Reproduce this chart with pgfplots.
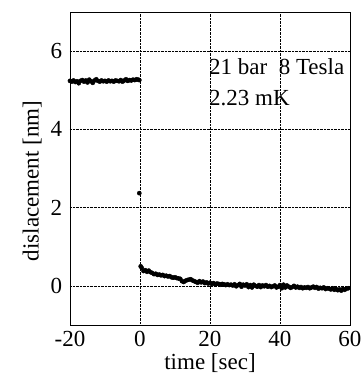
\documentclass[border=0pt]{standalone}
\usepackage{fontspec}
\setmainfont{Liberation Serif}
\usepackage{pgfplots}
\pgfplotsset{compat=1.18}
\begin{document}
\fontsize{23bp}{27bp}\selectfont
\begin{tikzpicture}
\begin{axis}[
  at={(0,0)}, anchor=south west,
  scale only axis, width=280bp, height=313bp,
  xmin=-20, xmax=60, ymin=-1, ymax=7,
  xtick={-20,0,20,40,60}, ytick={0,2,4,6},
  grid=major,
  major grid style={black, densely dotted, line width=0.5pt},
  tick style={draw=none},
  axis line style={black, line width=0.8pt},
  /pgf/number format/assume math mode=true,
  ticklabel style={font=\fontsize{23bp}{27bp}\selectfont},
  label style={font=\fontsize{23bp}{27bp}\selectfont},
  xlabel={time [sec]}, ylabel={dislacement [nm]},
  xlabel style={yshift=8bp},
  ylabel style={at={(axis description cs:-0.135,0.46)}, anchor=center},
  xticklabel style={yshift=2bp},
]
\addplot[only marks, mark=*, mark size=2.1bp, black] coordinates {
(-20,5.24) (-19.5,5.22) (-19,5.25) (-18.5,5.21) (-18,5.23) (-17.5,5.18) (-17,5.24) (-16.5,5.26) (-16,5.22) (-15.5,5.25)
(-15,5.20) (-14.5,5.27) (-14,5.23) (-13.5,5.19) (-13,5.25) (-12.5,5.28) (-12,5.24) (-11.5,5.22) (-11,5.25) (-10.5,5.23)
(-10,5.24) (-9.5,5.22) (-9,5.25) (-8.5,5.23) (-8,5.24) (-7.5,5.22) (-7,5.25) (-6.5,5.24) (-6,5.23) (-5.5,5.26)
(-5,5.22) (-4.5,5.25) (-4,5.28) (-3.5,5.24) (-3,5.26) (-2.5,5.25) (-2,5.27) (-1.5,5.26) (-1,5.28) (-0.5,5.27) (-0.2,5.26)
(-0.2,2.37)
(0.2,0.50) (0.5,0.46) (1,0.38) (1.5,0.40) (2,0.36) (2.5,0.39) (3,0.35) (3.5,0.33) (4,0.30) (4.5,0.31)
(5,0.28) (5.5,0.29) (6,0.27) (6.5,0.28) (7,0.25) (7.5,0.26) (8,0.24) (8.5,0.25) (9,0.22) (9.5,0.21)
(10,0.22) (10.5,0.20) (11,0.19) (11.5,0.18) (12,0.12) (12.5,0.10) (13,0.13) (13.5,0.15) (14,0.16) (14.5,0.17)
(15,0.14) (15.5,0.12) (16,0.10) (16.5,0.08) (17,0.12) (17.5,0.09) (18,0.11) (18.5,0.07) (19,0.09) (19.5,0.06)
(20,0.08) (20.5,0.05) (21,0.07) (21.5,0.04) (22,0.06) (22.5,0.05) (23,0.03) (23.5,0.05) (24,0.04) (24.5,0.02)
(25,0.04) (25.5,0.02) (26,0.03) (26.5,0.01) (27,0.04) (27.5,-0.01) (28,0.02) (28.5,0.05) (29,-0.02) (29.5,0.03)
(30,0.01) (30.5,0.04) (31,-0.03) (31.5,0.02) (32,-0.04) (32.5,0.03) (33,0.00) (33.5,-0.02) (34,0.02) (34.5,-0.03)
(35,0.01) (35.5,-0.01) (36,0.02) (36.5,-0.02) (37,0.00) (37.5,-0.03) (38,-0.01) (38.5,0.01) (39,-0.04) (39.5,-0.02)
(40,0.02) (40.5,-0.06) (41,0.03) (41.5,-0.04) (42,0.01) (42.5,-0.02) (43,-0.05) (43.5,-0.03) (44,0.00) (44.5,-0.04)
(45,-0.02) (45.5,-0.05) (46,-0.03) (46.5,-0.06) (47,-0.04) (47.5,-0.05) (48,-0.03) (48.5,-0.06) (49,-0.04) (49.5,-0.02)
(50,-0.05) (50.5,-0.03) (51,-0.07) (51.5,-0.05) (52,-0.06) (52.5,-0.04) (53,-0.08) (53.5,-0.06) (54,-0.07) (54.5,-0.09)
(55,-0.06) (55.5,-0.10) (56,-0.08) (56.5,-0.11) (57,-0.09) (57.5,-0.12) (58,-0.08) (58.5,-0.10) (59,-0.07) (59.5,-0.06)
};
\node[anchor=base west, inner sep=0pt] at (axis cs:19.7,5.4) {21 bar\ \ 8 Tesla};
\node[anchor=base west, inner sep=0pt] at (axis cs:19.7,4.61) {2.23 mK};
\end{axis}
\pgfresetboundingbox
\path (-70bp,-51bp) rectangle (293bp,325bp);
\end{tikzpicture}
\end{document}
